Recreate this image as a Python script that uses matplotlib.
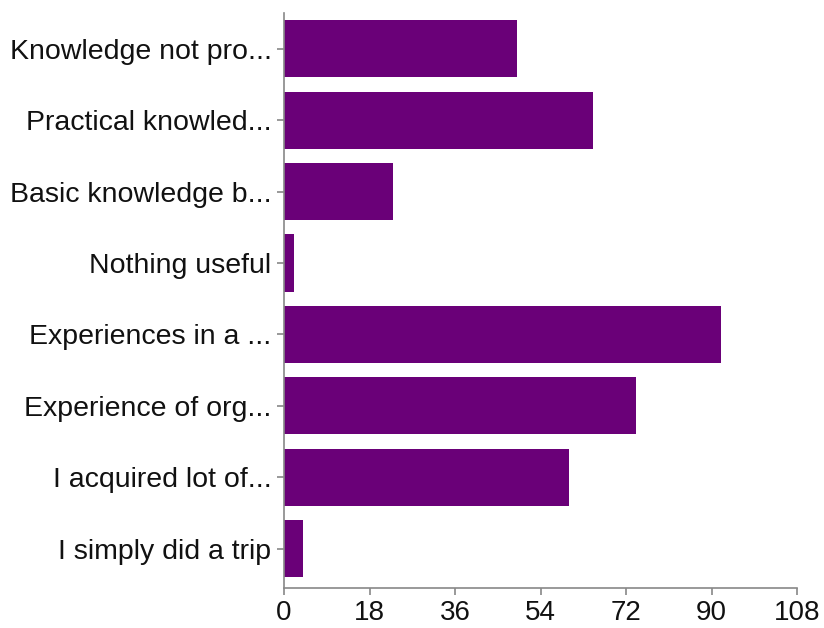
import matplotlib
matplotlib.use('Agg')
import matplotlib.pyplot as plt

# survey answers, top to bottom as in the chart
categories = ['Knowledge not pro...', 'Practical knowled...', 'Basic knowledge b...',
              'Nothing useful', 'Experiences in a ...', 'Experience of org...',
              'I acquired lot of...', 'I simply did a trip']
counts = [49, 65, 23, 2, 92, 74, 60, 4]
xticks = [0, 18, 36, 54, 72, 90, 108]

plt.rcParams['font.family'] = ['Liberation Sans', 'DejaVu Sans']

fig = plt.figure(figsize=(8.24, 6.28), dpi=100)
ax = fig.add_axes([0.3447, 0.0637, 0.6226, 0.9156])

pos = list(range(len(categories)))
ax.barh(pos, counts, height=0.8, color='#6a0078')

ax.set_ylim(len(categories) - 0.45, -0.5)
ax.set_xlim(0, 108)
ax.set_xticks(xticks)
ax.set_yticks(pos)
ax.set_yticklabels(categories)

for side in ['top', 'right']:
    ax.spines[side].set_visible(False)
for side in ['left', 'bottom']:
    ax.spines[side].set_color('#888888')
    ax.spines[side].set_linewidth(1.2)

ax.tick_params(axis='both', colors='#888888', labelcolor='#111111',
               length=5, width=1.2)
ax.tick_params(axis='y', pad=4, labelsize=20.5)
ax.tick_params(axis='x', pad=4, labelsize=20)

fig.savefig('out.png', dpi=100)
